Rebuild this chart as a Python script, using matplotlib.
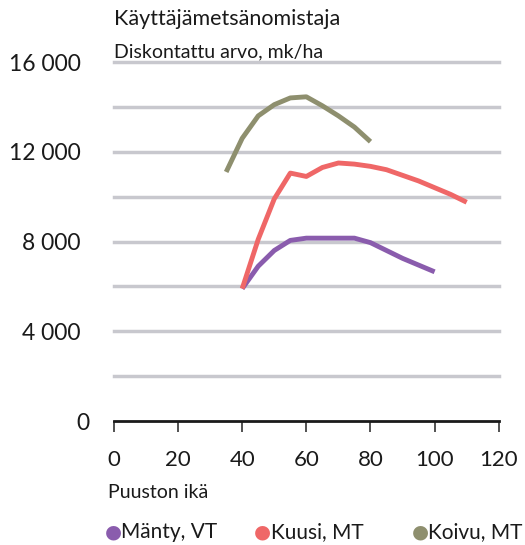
import numpy as np
import matplotlib.pyplot as plt
import matplotlib.transforms as mtransforms

plt.rcParams['font.family'] = ['Lato', 'DejaVu Sans']

# data
manty_age = [40, 45, 50, 55, 60, 65, 70, 75, 80, 85, 90, 95, 100]
manty_val = [5900, 6900, 7600, 8050, 8150, 8150, 8150, 8150, 7950, 7600, 7250, 6950, 6650]

kuusi_age = [40, 45, 50, 55, 60, 65, 70, 75, 80, 85, 90, 95, 100, 105, 110]
kuusi_val = [5900, 8100, 9900, 11050, 10900, 11300, 11500, 11450, 11350, 11200,
             10950, 10700, 10400, 10100, 9750]

koivu_age = [35, 40, 45, 50, 55, 60, 65, 70, 75, 80]
koivu_val = [11100, 12600, 13600, 14100, 14400, 14450, 14050, 13600, 13100, 12450]

grid_vals = [2000, 4000, 6000, 8000, 10000, 12000, 14000, 16000]
ytick_vals = [0, 4000, 8000, 12000, 16000]
ytick_labels = ['0', '4 000', '8 000', '12 000', '16 000']
xtick_vals = [0, 20, 40, 60, 80, 100, 120]

series = [
    ('Mänty, VT', manty_age, manty_val, '#8a5cad'),
    ('Kuusi, MT', kuusi_age, kuusi_val, '#ef6767'),
    ('Koivu, MT', koivu_age, koivu_val, '#8e8f6e'),
]

fig = plt.figure(figsize=(5.25, 5.45), dpi=100)
ax = fig.add_axes([0.217, 0.2275, 0.733, 0.6587])

for g in grid_vals:
    ax.axhline(g, color='#c8c8ce', lw=2.5, clip_on=False, zorder=1)

for name, x, y, c in series:
    ax.plot(x, y, color=c, lw=3.5, solid_capstyle='butt', zorder=3)

ax.set_xlim(0, 120)
ax.set_ylim(0, 16000)

for s in ['top', 'right', 'left']:
    ax.spines[s].set_visible(False)
ax.spines['bottom'].set_linewidth(2)
ax.spines['bottom'].set_color('#1a1a1a')

ax.set_xticks(xtick_vals)
ax.set_xticklabels([str(v) for v in xtick_vals])
ax.set_yticks(ytick_vals)
ax.set_yticklabels(ytick_labels)
ax.tick_params(axis='x', length=8, width=1.2, color='#333333', pad=13,
               labelsize=16, labelcolor='#1a1a1a')
ax.tick_params(axis='y', length=0, pad=24, labelsize=16.5, labelcolor='#1a1a1a')

# the zero label sits a bit further right in the original
zero_lbl = ax.get_yticklabels()[0]
zero_lbl.set_transform(zero_lbl.get_transform() +
                       mtransforms.ScaledTranslation(0.09, 0, fig.dpi_scale_trans))

fig.text(0.217, 0.965, 'Käyttäjämetsänomistaja', fontsize=15.5, color='#1a1a1a',
         ha='left', va='center')
fig.text(0.217, 0.905, 'Diskontattu arvo, mk/ha', fontsize=14, color='#1a1a1a',
         ha='left', va='center')
fig.text(0.205, 0.097, 'Puuston ikä', fontsize=14, color='#1a1a1a',
         ha='left', va='center')

# legend row
leg_x = [0.215, 0.5, 0.8]
for (name, x, y, c), lx in zip(series, leg_x):
    fig.text(lx, 0.024, '●', color=c, fontsize=14, ha='center', va='center',
             family='DejaVu Sans')
    fig.text(lx + 0.016, 0.024, name, color='#1a1a1a', fontsize=15,
             ha='left', va='center')

fig.savefig('out.png', dpi=100)
